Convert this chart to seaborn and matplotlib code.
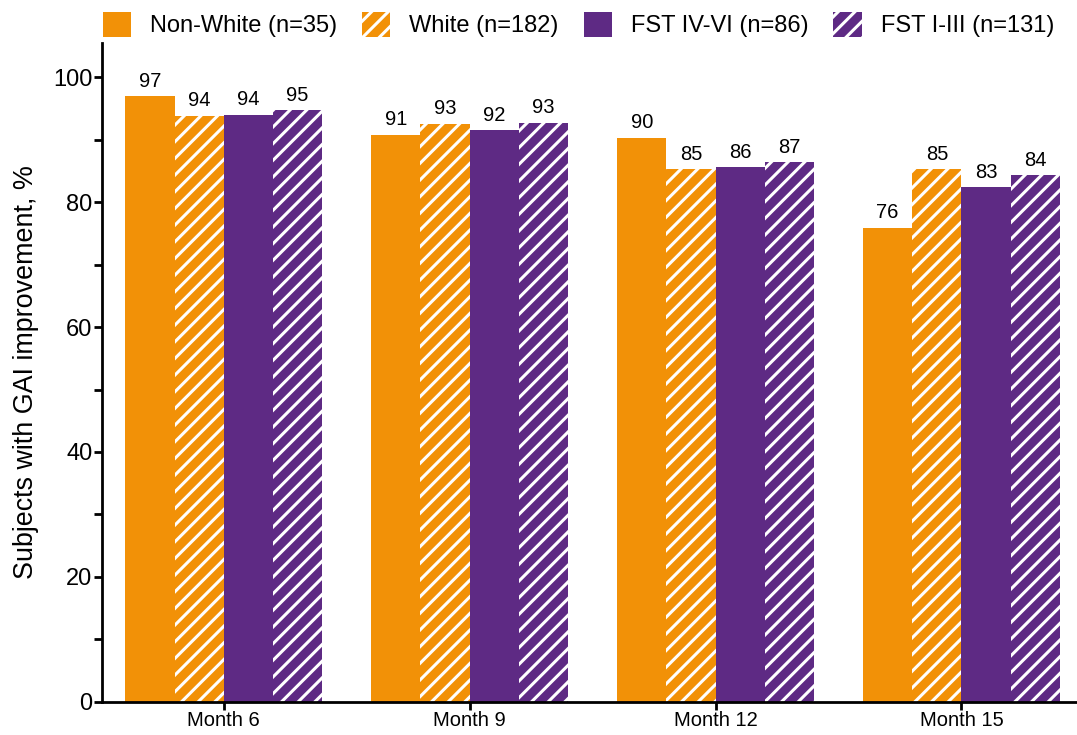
import pandas as pd
import matplotlib
matplotlib.use("Agg")
import matplotlib.pyplot as plt
from matplotlib.patches import Patch
from matplotlib.ticker import MultipleLocator
import seaborn as sns

# data
months = ["Month 6", "Month 9", "Month 12", "Month 15"]
groups = ["Non-White (n=35)", "White (n=182)", "FST IV-VI (n=86)", "FST I-III (n=131)"]
non_white = [97.0, 90.8, 90.3, 75.9]
white = [93.8, 92.6, 85.3, 85.3]
fst_iv_vi = [94.0, 91.5, 85.6, 82.4]
fst_i_iii = [94.7, 92.7, 86.4, 84.3]
labels_nw = ["97", "91", "90", "76"]
labels_w = ["94", "93", "85", "85"]
labels_iv = ["94", "92", "86", "83"]
labels_i = ["95", "93", "87", "84"]

orange = "#F29107"
purple = "#5E2A84"
colors = [orange, orange, purple, purple]
hatches = [None, "//", None, "//"]

df = pd.DataFrame({
    "Month": months * 4,
    "Group": [g for g in groups for _ in months],
    "Value": non_white + white + fst_iv_vi + fst_i_iii,
})

sns.set_theme(style="ticks")
plt.rcParams["font.family"] = ["Liberation Sans", "DejaVu Sans"]
plt.rcParams["hatch.linewidth"] = 2.2
plt.rcParams["hatch.color"] = "white"
plt.rcParams["text.color"] = "black"
plt.rcParams["axes.labelcolor"] = "black"
plt.rcParams["xtick.color"] = "black"
plt.rcParams["ytick.color"] = "black"
plt.rcParams["axes.edgecolor"] = "black"

fig = plt.figure(figsize=(10.77, 7.35), dpi=100)
ax = fig.add_axes([0.0947, 0.0453, 0.9053, 0.8962])

sns.barplot(data=df, x="Month", y="Value", hue="Group", order=months,
            hue_order=groups, palette=colors, width=0.8, ax=ax,
            legend=False, saturation=1)

all_labels = [labels_nw, labels_w, labels_iv, labels_i]
for cont, h, lab in zip(ax.containers, hatches, all_labels):
    for bar in cont:
        bar.set_linewidth(0)
        if h:
            bar.set_hatch(h)
            bar.set_edgecolor("white")
    ax.bar_label(cont, labels=lab, padding=4, fontsize=14.5, color="black")

ax.set_ylim(0, 105.5)
ax.set_xlim(-0.495, 3.47)
ax.set_yticks([0, 20, 40, 60, 80, 100])
ax.yaxis.set_minor_locator(MultipleLocator(10))
ax.set_ylabel("Subjects with GAI improvement, %", fontsize=19.4, labelpad=10)
ax.set_xlabel("")

for s in ["top", "right"]:
    ax.spines[s].set_visible(False)
ax.spines["left"].set_linewidth(2)
ax.spines["bottom"].set_linewidth(2)
ax.tick_params(axis="y", which="major", length=6, width=2, labelsize=17, pad=1)
ax.tick_params(axis="y", which="minor", length=6, width=2)
ax.tick_params(axis="x", length=6, width=2, labelsize=14.5, pad=1)

handles = []
for g, c, h in zip(groups, colors, hatches):
    if h:
        handles.append(Patch(facecolor=c, edgecolor="white", hatch=h, linewidth=0, label=g))
    else:
        handles.append(Patch(facecolor=c, linewidth=0, label=g))
fig.legend(handles=handles, loc="upper center", bbox_to_anchor=(0.537, 1.012), ncol=4,
           frameon=False, fontsize=17, handlelength=1.2, handleheight=1.2,
           handletextpad=0.8, columnspacing=1.06)

fig.savefig("out.png", dpi=100)
